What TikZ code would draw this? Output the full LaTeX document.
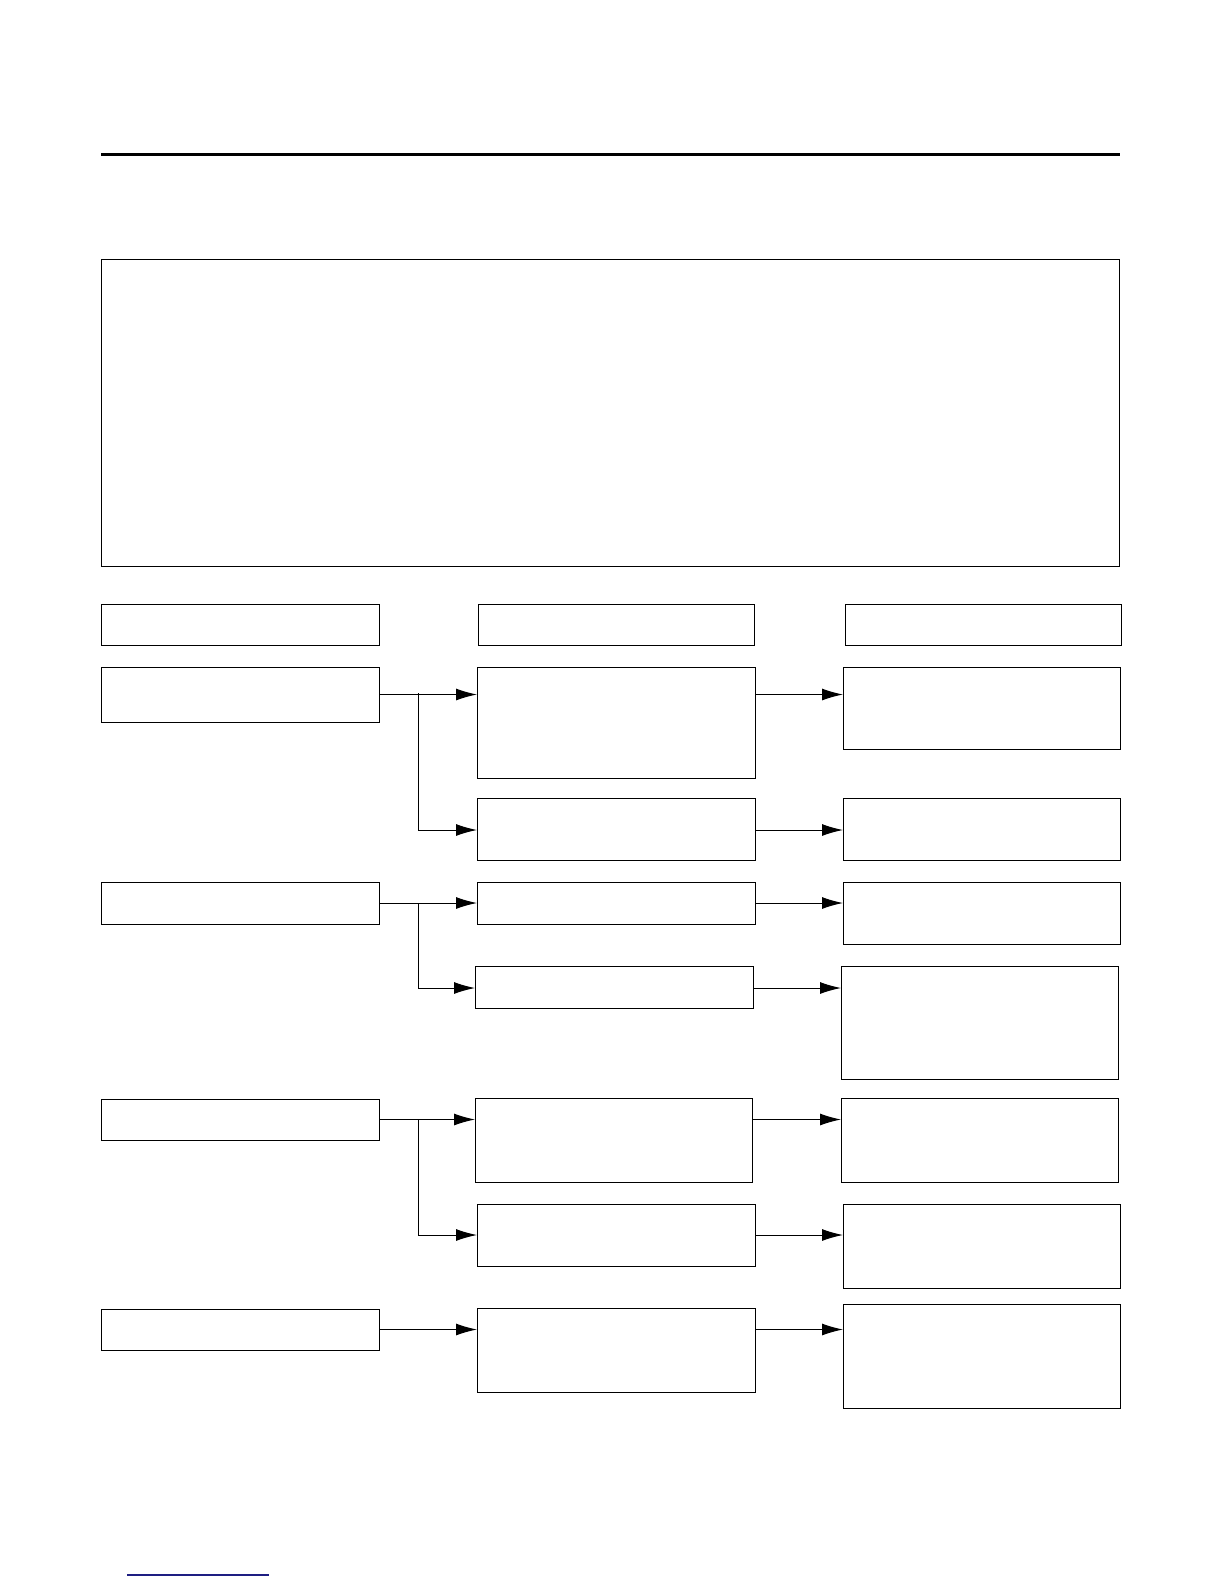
\documentclass[tikz,border=0pt]{standalone}
\usetikzlibrary{arrows.meta}
\definecolor{navyline}{RGB}{30,30,130}
\begin{document}
\begin{tikzpicture}[x=1pt,y=-1pt,
  box/.style={draw=black,line width=1pt,rectangle,inner sep=0pt,outer sep=0pt,anchor=north west},
  arr/.style={draw=black,line width=1pt,-{Latex[length=21pt,width=12pt]}},
  ln/.style={draw=black,line width=1pt}]
\useasboundingbox (0,0) rectangle (1224,1584);
\newcommand{\bx}[5]{\node[box,minimum width={#4-#2},minimum height={#5-#3}] (#1) at (#2,#3) {};}
% top rule
\coordinate (ruleL) at (101,154.5);
\coordinate (ruleR) at (1120,154.5);
\draw[line width=2.2pt] (ruleL) -- (ruleR);
% big box
\bx{big}{101}{259}{1119}{566}
% header row
\bx{H1}{101}{604}{379}{645}
\bx{H2}{478}{604}{754}{645}
\bx{H3}{845}{604}{1121}{645}
% row 1
\bx{L1}{101}{667}{379}{722}
\bx{M1}{477}{667}{755}{778}
\bx{R1}{843}{667}{1120}{749}
\bx{M2}{477}{798}{755}{860}
\bx{R2}{843}{798}{1120}{860}
% row 2
\bx{L2}{101}{882}{379}{924}
\bx{M3}{477}{882}{755}{924}
\bx{R3}{843}{882}{1120}{944}
\bx{M4}{475}{966}{753}{1008}
\bx{R4}{841}{966}{1118}{1079}
% row 3
\bx{L3}{101}{1099}{379}{1140}
\bx{M5}{475}{1098}{752}{1182}
\bx{R5}{841}{1098}{1118}{1182}
\bx{M6}{477}{1204}{755}{1266}
\bx{R6}{843}{1204}{1120}{1288}
% row 4
\bx{L4}{101}{1309}{379}{1350}
\bx{M7}{477}{1308}{755}{1392}
\bx{R7}{843}{1304}{1120}{1408}
% branch points
\coordinate (B1) at (418,693);
\coordinate (B2) at (418,903);
\coordinate (B3) at (418,1120);
% row 1 connectors
\draw[arr] (L1.east) -- (L1.east -| M1.west);
\draw[ln] (B1) -- (418,830);
\draw[arr] (418,830) -- (M2.west |- 418,830);
\draw[arr] (M1.east |- L1.east) -- (R1.west |- L1.east);
\draw[arr] (M2.east |- 418,830) -- (R2.west |- 418,830);
% row 2 connectors
\draw[arr] (L2.east) -- (L2.east -| M3.west);
\draw[ln] (B2) -- (418,988);
\draw[arr] (418,988) -- (M4.west |- 418,988);
\draw[arr] (M3.east |- L2.east) -- (R3.west |- L2.east);
\draw[arr] (M4.east |- 418,988) -- (R4.west |- 418,988);
% row 3 connectors
\draw[arr] (L3.east) -- (L3.east -| M5.west);
\draw[ln] (B3) -- (418,1235);
\draw[arr] (418,1235) -- (M6.west |- 418,1235);
\draw[arr] (M5.east |- L3.east) -- (R5.west |- L3.east);
\draw[arr] (M6.east |- 418,1235) -- (R6.west |- 418,1235);
% row 4 connectors
\draw[arr] (L4.east) -- (L4.east -| M7.west);
\draw[arr] (M7.east |- L4.east) -- (R7.west |- L4.east);
% bottom blue line
\coordinate (blueL) at (127,1575);
\coordinate (blueR) at (269,1575);
\draw[navyline,line width=1.5pt] (blueL) -- (blueR);
\end{tikzpicture}
\end{document}
